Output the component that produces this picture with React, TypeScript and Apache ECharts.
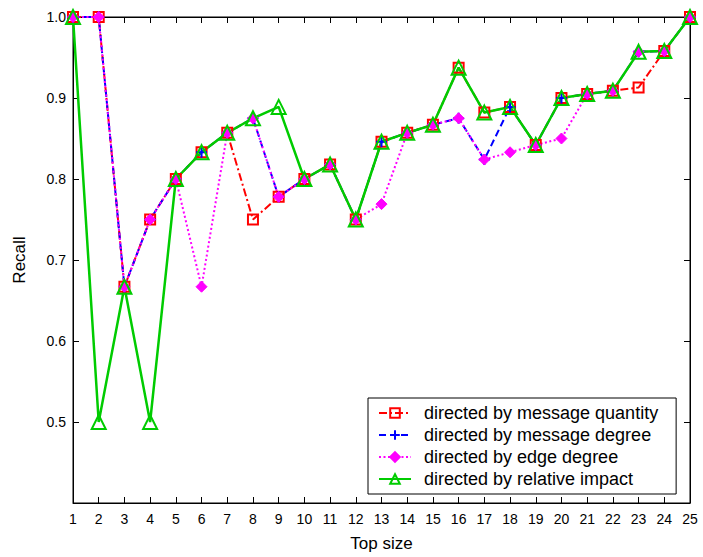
import React, { useEffect, useRef } from "react";
import * as echarts from "echarts";

const topSizes = [1,2,3,4,5,6,7,8,9,10,11,12,13,14,15,16,17,18,19,20,21,22,23,24,25];
const messageQuantity = [1.0,1.0,0.667,0.75,0.8,0.833,0.857,0.75,0.778,0.8,0.818,0.75,0.846,0.857,0.867,0.9375,0.882,0.889,0.842,0.9,0.905,0.909,0.913,0.958,1.0];
const messageDegree = [1.0,1.0,0.667,0.75,0.8,0.833,0.857,0.875,0.778,0.8,0.818,0.75,0.846,0.857,0.867,0.875,0.824,0.889,0.842,0.9,0.905,0.909,0.957,0.958,1.0];
const edgeDegree = [1.0,1.0,0.667,0.75,0.8,0.667,0.857,0.875,0.778,0.8,0.818,0.75,0.769,0.857,0.867,0.875,0.824,0.833,0.842,0.85,0.905,0.909,0.957,0.958,1.0];
const relativeImpact = [1.0,0.5,0.667,0.5,0.8,0.833,0.857,0.875,0.889,0.8,0.818,0.75,0.846,0.857,0.867,0.9375,0.882,0.889,0.842,0.9,0.905,0.909,0.957,0.958,1.0];
const seriesNames = [
  "directed by message quantity",
  "directed by message degree",
  "directed by edge degree",
  "directed by relative impact",
];

const FONT = "Liberation Sans, Arial, sans-serif";
const pts = (vals: number[]) => vals.map((v, i) => [topSizes[i], v]);

export default function App() {
  const ref = useRef<HTMLDivElement>(null);
  useEffect(() => {
    const chart = echarts.init(ref.current!, null, { renderer: "svg" });
    const axisCommon = {
      axisLine: { show: true, lineStyle: { color: "#000", width: 1 } },
      axisTick: { show: true, inside: true, length: 6, lineStyle: { color: "#000" } },
      splitLine: { show: false },
    };
    chart.setOption({
      animation: false,
      backgroundColor: "#fff",
      textStyle: { fontFamily: FONT },
      grid: { left: 73, right: 13, top: 17, bottom: 53, show: true, borderColor: "#000", borderWidth: 1 },
      legend: {
        orient: "vertical",
        left: 368,
        top: 398,
        padding: [6, 18, 6, 10],
        itemGap: 4,
        itemWidth: 32,
        itemHeight: 12,
        borderColor: "#000",
        borderWidth: 1,
        backgroundColor: "#fff",
        textStyle: { fontSize: 18, lineHeight: 18, color: "#000", fontFamily: FONT, padding: [0, 0, 0, 8] },
        data: seriesNames,
      },
      xAxis: [
        {
          type: "value", min: 1, max: 25, interval: 1, position: "bottom",
          ...axisCommon,
          axisLabel: { color: "#000", fontSize: 14, margin: 9, fontFamily: FONT },
          name: "Top size", nameLocation: "middle", nameGap: 32,
          nameTextStyle: { color: "#000", fontSize: 17, fontFamily: FONT },
        },
        {
          type: "value", min: 1, max: 25, interval: 1, position: "top",
          ...axisCommon, axisLabel: { show: false },
        },
      ],
      yAxis: [
        {
          type: "value", min: 0.4, max: 1.0, interval: 0.1, position: "left",
          ...axisCommon,
          axisLabel: {
            color: "#000", fontSize: 14, margin: 7, fontFamily: FONT,
            formatter: (v: number) => (Math.abs(v - 0.4) < 1e-6 ? "" : v.toFixed(1)),
          },
          name: "Recall", nameLocation: "middle", nameGap: 45, nameRotate: 90,
          nameTextStyle: { color: "#000", fontSize: 17, fontFamily: FONT },
        },
        {
          type: "value", min: 0.4, max: 1.0, interval: 0.1, position: "right",
          ...axisCommon, axisLabel: { show: false },
        },
      ],
      series: [
        {
          name: seriesNames[0], type: "line", data: pts(messageQuantity),
          symbol: "rect", symbolSize: 10,
          lineStyle: { color: "#ff0000", width: 2, type: [8, 3, 2, 3] },
          itemStyle: { color: "rgba(255,255,255,0)", borderColor: "#ff0000", borderWidth: 2 },
        },
        {
          name: seriesNames[1], type: "line", data: pts(messageDegree),
          symbol: "path://M0,5 L10,5 M5,0 L5,10", symbolSize: 11,
          lineStyle: { color: "#0000ff", width: 2, type: [7, 4] },
          itemStyle: { color: "#0000ff", borderColor: "#0000ff", borderWidth: 2 },
        },
        {
          name: seriesNames[2], type: "line", data: pts(edgeDegree),
          symbol: "diamond", symbolSize: 11,
          lineStyle: { color: "#ff00ff", width: 2, type: [2, 2.5] },
          itemStyle: { color: "#ff00ff", borderColor: "#ff00ff", borderWidth: 1 },
        },
        {
          name: seriesNames[3], type: "line", data: pts(relativeImpact),
          symbol: "triangle", symbolSize: 14,
          lineStyle: { color: "#00cc00", width: 2.5, type: "solid" },
          itemStyle: { color: "rgba(255,255,255,0)", borderColor: "#00cc00", borderWidth: 2 },
        },
      ],
    });
    return () => chart.dispose();
  }, []);
  return <div ref={ref} style={{ width: 703, height: 557, position: "absolute", left: 0, top: 0 }} />;
}
